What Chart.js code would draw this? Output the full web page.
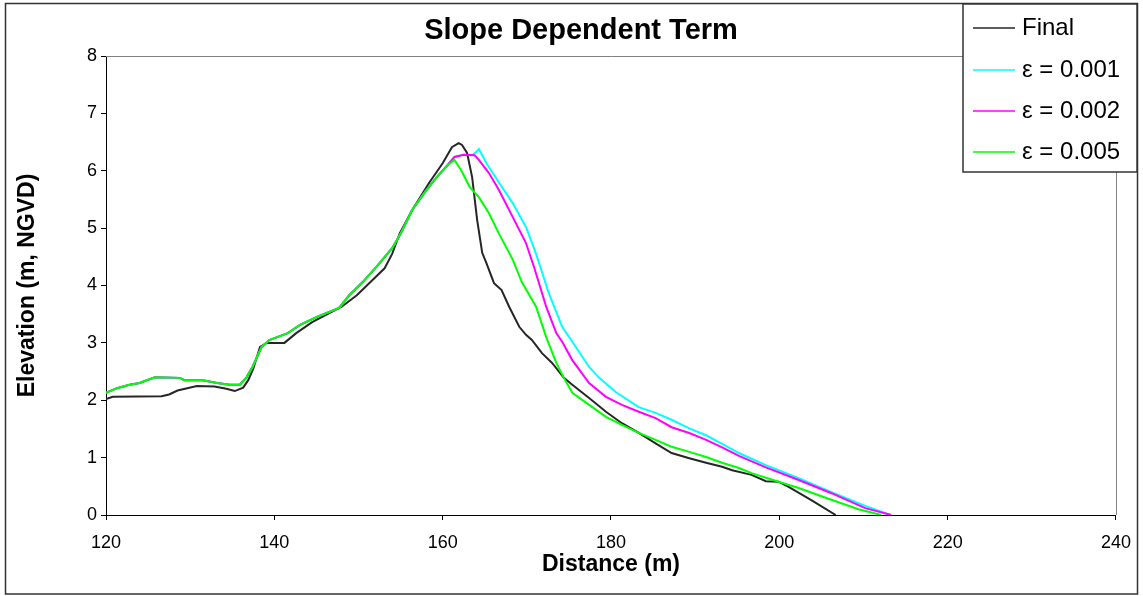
<!DOCTYPE html>
<html>
<head>
<meta charset="utf-8">
<script src="https://cdn.jsdelivr.net/npm/chart.js@4/dist/chart.umd.min.js"></script>
<style>
body { margin: 0; background: #fff; }
canvas { display: block; }
</style>
</head>
<body>
<canvas id="myChart" width="1143" height="596"></canvas>
<script>
var seriesNames = ['Final', '\u03b5 = 0.001', '\u03b5 = 0.002', '\u03b5 = 0.005'];
var seriesColors = ['#262626', '#00ffff', '#ff00ff', '#00ff00'];

var finalX = [120.0, 120.8, 126.6, 127.5, 128.5, 130.8, 132.9, 134.3, 135.3, 136.3, 136.9, 137.5, 138.3, 139.1, 141.2, 142.6, 144.5, 148.0, 149.8, 151.7, 153.1, 154.0, 154.9, 156.4, 158.4, 160.0, 161.1, 161.9, 162.3, 162.9, 163.5, 164.1, 164.7, 165.2, 166.1, 167.0, 167.9, 169.1, 169.9, 170.6, 171.8, 173.0, 174.4, 175.4, 177.4, 179.4, 181.3, 183.3, 185.3, 187.2, 189.3, 191.3, 193.2, 194.4, 196.7, 198.4, 199.9, 201.1, 203.8, 206.7];
var finalY = [2.02, 2.06, 2.07, 2.10, 2.17, 2.25, 2.24, 2.20, 2.16, 2.22, 2.35, 2.55, 2.93, 3.00, 3.00, 3.17, 3.36, 3.63, 3.83, 4.10, 4.30, 4.55, 4.91, 5.32, 5.79, 6.13, 6.41, 6.48, 6.45, 6.31, 5.89, 5.14, 4.57, 4.39, 4.04, 3.92, 3.63, 3.28, 3.14, 3.05, 2.82, 2.65, 2.39, 2.27, 2.04, 1.80, 1.60, 1.43, 1.25, 1.08, 0.99, 0.91, 0.84, 0.78, 0.70, 0.59, 0.58, 0.49, 0.26, 0.00];

var eps1X = [120.0, 121.3, 122.8, 124.0, 125.8, 128.8, 129.3, 131.5, 133.2, 134.7, 135.9, 136.7, 137.4, 138.5, 139.4, 141.6, 143.0, 145.0, 147.7, 148.9, 150.5, 152.1, 154.0, 155.0, 156.4, 158.0, 159.3, 160.6, 161.4, 162.5, 163.5, 164.0, 164.3, 165.2, 166.7, 168.3, 169.9, 171.1, 172.6, 174.2, 175.9, 177.4, 178.6, 180.6, 183.3, 185.3, 187.2, 189.3, 191.3, 193.2, 195.2, 198.4, 202.3, 206.2, 210.2, 213.2];
var eps1Y = [2.13, 2.21, 2.27, 2.30, 2.40, 2.39, 2.35, 2.35, 2.30, 2.27, 2.27, 2.40, 2.58, 2.93, 3.05, 3.17, 3.31, 3.45, 3.61, 3.83, 4.06, 4.32, 4.65, 4.90, 5.32, 5.65, 5.89, 6.10, 6.24, 6.28, 6.27, 6.33, 6.38, 6.13, 5.79, 5.44, 5.02, 4.55, 3.87, 3.28, 2.91, 2.58, 2.39, 2.14, 1.88, 1.78, 1.66, 1.51, 1.39, 1.24, 1.08, 0.87, 0.64, 0.40, 0.16, 0.00];

var eps2X = [120.0, 121.3, 122.8, 124.0, 125.8, 128.8, 129.3, 131.5, 133.2, 134.7, 135.9, 136.7, 137.4, 138.5, 139.4, 141.6, 143.0, 145.0, 147.7, 148.9, 150.5, 152.1, 154.0, 155.0, 156.4, 158.0, 159.3, 160.6, 161.4, 162.5, 163.8, 164.3, 165.5, 166.7, 168.3, 169.9, 170.9, 172.3, 173.5, 174.2, 175.4, 177.4, 179.4, 181.3, 183.3, 185.3, 187.2, 189.3, 191.3, 193.2, 195.2, 198.4, 202.3, 206.2, 210.2, 213.3];
var eps2Y = [2.13, 2.21, 2.27, 2.30, 2.40, 2.39, 2.35, 2.35, 2.30, 2.27, 2.27, 2.40, 2.58, 2.93, 3.05, 3.17, 3.31, 3.45, 3.61, 3.83, 4.06, 4.32, 4.65, 4.90, 5.32, 5.65, 5.89, 6.10, 6.24, 6.28, 6.27, 6.19, 5.96, 5.66, 5.20, 4.74, 4.30, 3.63, 3.17, 3.02, 2.70, 2.30, 2.06, 1.92, 1.80, 1.69, 1.53, 1.43, 1.31, 1.18, 1.03, 0.83, 0.61, 0.38, 0.12, 0.00];

var eps5X = [120.0, 121.3, 122.8, 124.0, 125.8, 128.8, 129.3, 131.5, 133.2, 134.7, 135.9, 136.7, 137.4, 138.5, 139.4, 141.6, 143.0, 145.0, 147.7, 148.9, 150.5, 152.1, 154.0, 155.0, 156.4, 158.0, 159.3, 160.6, 161.4, 162.2, 163.2, 164.3, 165.5, 166.7, 168.3, 169.4, 171.1, 172.3, 173.5, 174.4, 175.4, 177.4, 179.4, 181.3, 183.3, 185.3, 187.2, 189.3, 191.3, 193.2, 195.2, 196.7, 199.9, 202.3, 205.5, 209.4, 212.1];
var eps5Y = [2.13, 2.21, 2.27, 2.30, 2.40, 2.39, 2.35, 2.35, 2.30, 2.27, 2.27, 2.40, 2.58, 2.93, 3.05, 3.17, 3.31, 3.45, 3.61, 3.83, 4.06, 4.32, 4.65, 4.90, 5.32, 5.65, 5.89, 6.10, 6.19, 6.01, 5.72, 5.54, 5.26, 4.90, 4.46, 4.06, 3.63, 3.10, 2.65, 2.39, 2.13, 1.92, 1.71, 1.57, 1.43, 1.31, 1.19, 1.10, 1.01, 0.91, 0.82, 0.73, 0.58, 0.47, 0.30, 0.10, 0.00];

var xMin = 120, xMax = 240, xStep = 20;
var yMin = 0, yMax = 8, yStep = 1;

function toPoints(xs, ys) {
    return xs.map(function (x, i) { return { x: x, y: ys[i] }; });
}

var fontFamily = '"Liberation Sans", Arial, sans-serif';

// frame, plot-area border and the boxed legend Excel draws
var framePlugin = {
    id: 'frame',
    beforeDraw: function (chart) {
        var c = chart.ctx;
        c.save();
        c.fillStyle = '#fff';
        c.fillRect(0, 0, chart.width, chart.height);
        c.restore();
    },
    afterDraw: function (chart) {
        var c = chart.ctx;
        var a = chart.chartArea;
        c.save();
        c.strokeStyle = '#808080';
        c.lineWidth = 1;
        c.beginPath();
        c.moveTo(a.left, a.top + 0.5);
        c.lineTo(a.right + 0.5, a.top + 0.5);
        c.lineTo(a.right + 0.5, a.bottom);
        c.stroke();

        c.strokeStyle = '#333';
        c.lineWidth = 1.5;
        c.strokeRect(5.5, 3.5, 1132, 590.5);

        c.fillStyle = '#fff';
        c.fillRect(963, 4, 174, 168);
        c.strokeRect(963, 4, 174, 168);

        c.font = '24px ' + fontFamily;
        c.textBaseline = 'middle';
        c.textAlign = 'left';
        var rows = [28, 70, 111, 152];
        chart.data.datasets.forEach(function (ds, i) {
            c.strokeStyle = ds.borderColor;
            c.lineWidth = 1.5;
            c.beginPath();
            c.moveTo(973, rows[i]);
            c.lineTo(1015, rows[i]);
            c.stroke();
            c.fillStyle = '#000';
            c.fillText(ds.label, 1022, rows[i]);
        });
        c.restore();
    }
};

var series = [[finalX, finalY], [eps1X, eps1Y], [eps2X, eps2Y], [eps5X, eps5Y]];

var ctx = document.getElementById('myChart').getContext('2d');
var myChart = new Chart(ctx, {
    type: 'scatter',
    data: {
        datasets: series.map(function (s, i) {
            return {
                label: seriesNames[i],
                data: toPoints(s[0], s[1]),
                showLine: true,
                borderColor: seriesColors[i],
                backgroundColor: seriesColors[i],
                borderWidth: 2,
                pointRadius: 0,
                tension: 0,
                order: 4 - i
            };
        })
    },
    options: {
        responsive: false,
        animation: false,
        layout: {
            padding: { top: 0, right: 23, bottom: 0, left: 42 }
        },
        plugins: {
            legend: { display: false },
            tooltip: { enabled: false },
            title: {
                display: true,
                text: 'Slope Dependent Term',
                color: '#000',
                font: { family: fontFamily, size: 29, weight: 'bold' },
                padding: { top: 13.6, bottom: 7.6 }
            }
        },
        scales: {
            x: {
                type: 'linear',
                min: xMin,
                max: xMax,
                afterFit: function (scale) { scale.height = 81; },
                ticks: {
                    stepSize: xStep,
                    color: '#000',
                    padding: 12,
                    maxRotation: 0,
                    font: { family: fontFamily, size: 18 }
                },
                grid: {
                    drawOnChartArea: false,
                    drawTicks: true,
                    tickLength: 5,
                    color: '#000'
                },
                border: { color: '#000', width: 1 },
                title: {
                    display: true,
                    text: 'Distance (m)',
                    color: '#000',
                    font: { family: fontFamily, size: 23, weight: 'bold' },
                    padding: { top: 0, bottom: 18 }
                }
            },
            y: {
                type: 'linear',
                min: yMin,
                max: yMax,
                afterFit: function (scale) { scale.width = 64; },
                ticks: {
                    stepSize: yStep,
                    color: '#000',
                    padding: 4,
                    font: { family: fontFamily, size: 18 }
                },
                grid: {
                    drawOnChartArea: false,
                    drawTicks: true,
                    tickLength: 5,
                    color: '#000'
                },
                border: { color: '#000', width: 1 },
                title: {
                    display: true,
                    text: 'Elevation (m, NGVD)',
                    color: '#000',
                    font: { family: fontFamily, size: 23, weight: 'bold' },
                    padding: { top: -28, bottom: 0 }
                }
            }
        }
    },
    plugins: [framePlugin]
});
</script>
</body>
</html>
